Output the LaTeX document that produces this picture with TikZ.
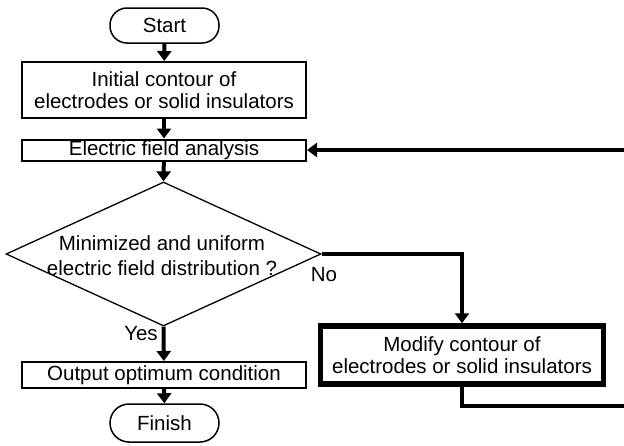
\documentclass[tikz,border=0pt]{standalone}
\usepackage{fontspec}
\setmainfont{Liberation Sans}
\usetikzlibrary{arrows.meta,shapes.geometric}
\begin{document}
\begin{tikzpicture}[x=1pt,y=-1pt,
  every node/.style={font=\fontsize{20.5}{21.5}\selectfont},
  term/.style={draw,line width=1.5pt,rounded corners=17pt,minimum width=109pt,minimum height=35pt,inner sep=0pt},
  proc/.style={draw,line width=2pt,minimum width=284pt,inner sep=0pt,align=center},
  conn/.style={line width=4pt,-{Triangle[width=14pt,length=10pt]}},
  plain/.style={line width=4pt}]
\useasboundingbox (0,0) rectangle (624,445);
\node[term] (start) at (164.5,25.5) {Start};
\node[proc,minimum height=56pt] (init) at (164,90) {Initial contour of\\electrodes or solid insulators};
\node[proc,minimum height=21pt] (efa) at (164,150) {Electric field analysis};
\node[draw,diamond,line width=1.3pt,minimum width=315pt,minimum height=144pt,inner sep=0pt] (dec) at (163.5,254) {};
\node[align=center,font=\fontsize{20.5}{25}\selectfont] (dectext) at (162,256) {Minimized and uniform\\electric field distribution ?};
\node[draw,line width=5.5pt,minimum width=283pt,minimum height=58pt,align=center,inner sep=0pt] (mod) at (462,355) {Modify contour of\\electrodes or solid insulators};
\node[proc,minimum height=26pt] (out) at (164,375) {Output optimum condition};
\node[term,minimum height=38pt,rounded corners=19pt] (fin) at (164.5,423) {Finish};
\node (no) at (324,275) {No};
\node (yes) at (141,334) {Yes};
\coordinate (fbin) at (624,150);
\coordinate (fbout) at (624,406);
\draw[conn] (start) -- (init);
\draw[conn] (init) -- (efa);
\draw[conn] (efa) -- (dec.north);
\draw[conn] (dec.south) -- (out);
\draw[conn] (out) -- (fin);
\draw[conn] (dec.east) -| (mod.north);
\draw[plain] (mod.south) |- (fbout);
\draw[conn] (fbin) -- (efa.east);
\end{tikzpicture}
\end{document}
